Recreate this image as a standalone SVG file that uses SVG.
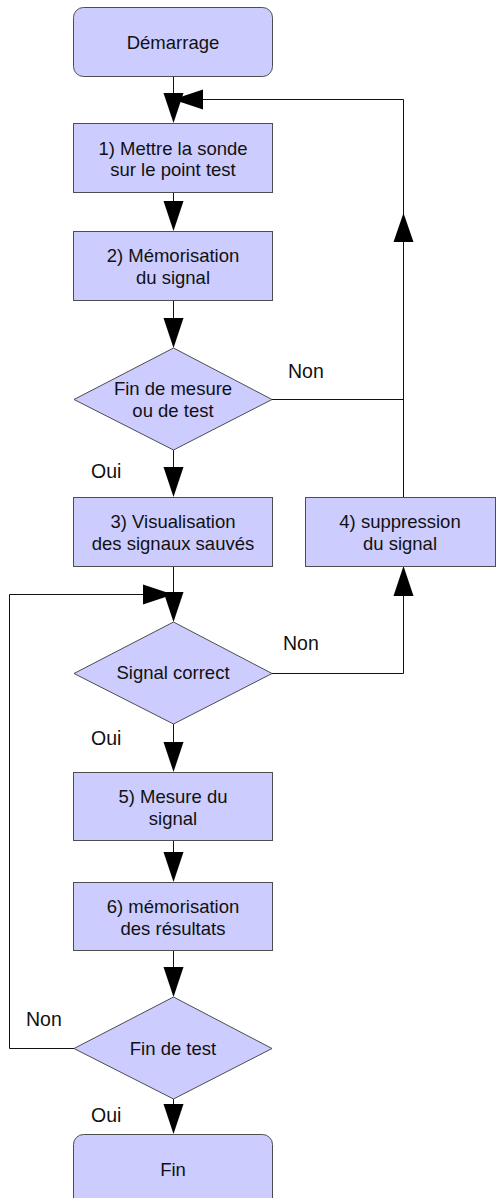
<svg xmlns="http://www.w3.org/2000/svg" width="496" height="1198" viewBox="0 0 496 1198">
<style>
.n{fill:#ccccff;stroke:#4d4d4d;stroke-width:1}
.t{font-family:"Liberation Sans",Arial,sans-serif;font-size:18.5px;fill:#111;text-anchor:middle}
.l{font-family:"Liberation Sans",Arial,sans-serif;font-size:19.5px;fill:#111}
.c{fill:none;stroke:#111;stroke-width:1}
.a{fill:#000}
</style>
<rect width="496" height="1198" fill="#fff"/>
<g id="connectors">
<path class="c" d="M173.5 77V100M173.5 193V205M173.5 300V320M173.5 450V470M173.5 566V594M173.5 724V745M173.5 840V855M173.5 950V970M173.5 1099V1106"/>
<path class="c" d="M403.5 497V99.5H200"/>
<path class="c" d="M272 399.5H403.5"/>
<path class="c" d="M74 1048.5H9.5V594.5H150"/>
<path class="c" d="M272 673.5H403.5V590"/>
<polygon class="a" points="163.5,93 183.5,93 173.5,123"/>
<polygon class="a" points="203,89.5 203,109.5 173,99.5"/>
<polygon class="a" points="393.5,242 413.5,242 403.5,213"/>
<polygon class="a" points="163.5,201 183.5,201 173.5,231"/>
<polygon class="a" points="163.5,318 183.5,318 173.5,348"/>
<polygon class="a" points="163.5,467 183.5,467 173.5,497"/>
<polygon class="a" points="163.5,592 183.5,592 173.5,622"/>
<polygon class="a" points="143,584.5 143,604.5 173,594.5"/>
<polygon class="a" points="393.5,596 413.5,596 403.5,566"/>
<polygon class="a" points="163.5,742 183.5,742 173.5,772"/>
<polygon class="a" points="163.5,852 183.5,852 173.5,882"/>
<polygon class="a" points="163.5,967 183.5,967 173.5,997"/>
<polygon class="a" points="163.5,1104 183.5,1104 173.5,1134"/>
</g>
<g id="start"><rect class="n" x="73.5" y="7.5" width="199" height="69" rx="10"/><text class="t" x="173" y="49">Démarrage</text></g>
<g id="step1"><rect class="n" x="73.5" y="123.5" width="199" height="69"/><text class="t" x="173" y="155">1) Mettre la sonde</text><text class="t" x="173" y="176">sur le point test</text></g>
<g id="step2"><rect class="n" x="73.5" y="231.5" width="199" height="69"/><text class="t" x="173" y="262">2) Mémorisation</text><text class="t" x="173" y="284">du signal</text></g>
<g id="dec1"><polygon class="n" points="173.5,348 272,399.5 173.5,450 74,399.5"/><text class="t" x="173" y="395">Fin de mesure</text><text class="t" x="173" y="417">ou de test</text></g>
<g id="step3"><rect class="n" x="73.5" y="497.5" width="199" height="69"/><text class="t" x="173" y="528">3) Visualisation</text><text class="t" x="173" y="550">des signaux sauvés</text></g>
<g id="step4"><rect class="n" x="305.5" y="497.5" width="190" height="69"/><text class="t" x="400" y="528">4) suppression</text><text class="t" x="400" y="550">du signal</text></g>
<g id="dec2"><polygon class="n" points="173.5,622 272,673.5 173.5,724 74,673.5"/><text class="t" x="173" y="679">Signal correct</text></g>
<g id="step5"><rect class="n" x="73.5" y="772.5" width="199" height="68"/><text class="t" x="173" y="803">5) Mesure du</text><text class="t" x="173" y="825">signal</text></g>
<g id="step6"><rect class="n" x="73.5" y="882.5" width="199" height="68"/><text class="t" x="173" y="913">6) mémorisation</text><text class="t" x="173" y="935">des résultats</text></g>
<g id="dec3"><polygon class="n" points="173.5,997 272,1048.5 173.5,1099 74,1048.5"/><text class="t" x="173" y="1055">Fin de test</text></g>
<g id="end"><rect class="n" x="73.5" y="1134.5" width="199" height="75" rx="10"/><text class="t" x="173" y="1176">Fin</text></g>
<g id="labels">
<text class="l" x="288" y="378">Non</text>
<text class="l" x="91" y="478">Oui</text>
<text class="l" x="283" y="650">Non</text>
<text class="l" x="91" y="745">Oui</text>
<text class="l" x="26" y="1026">Non</text>
<text class="l" x="91" y="1122">Oui</text>
</g>
</svg>
